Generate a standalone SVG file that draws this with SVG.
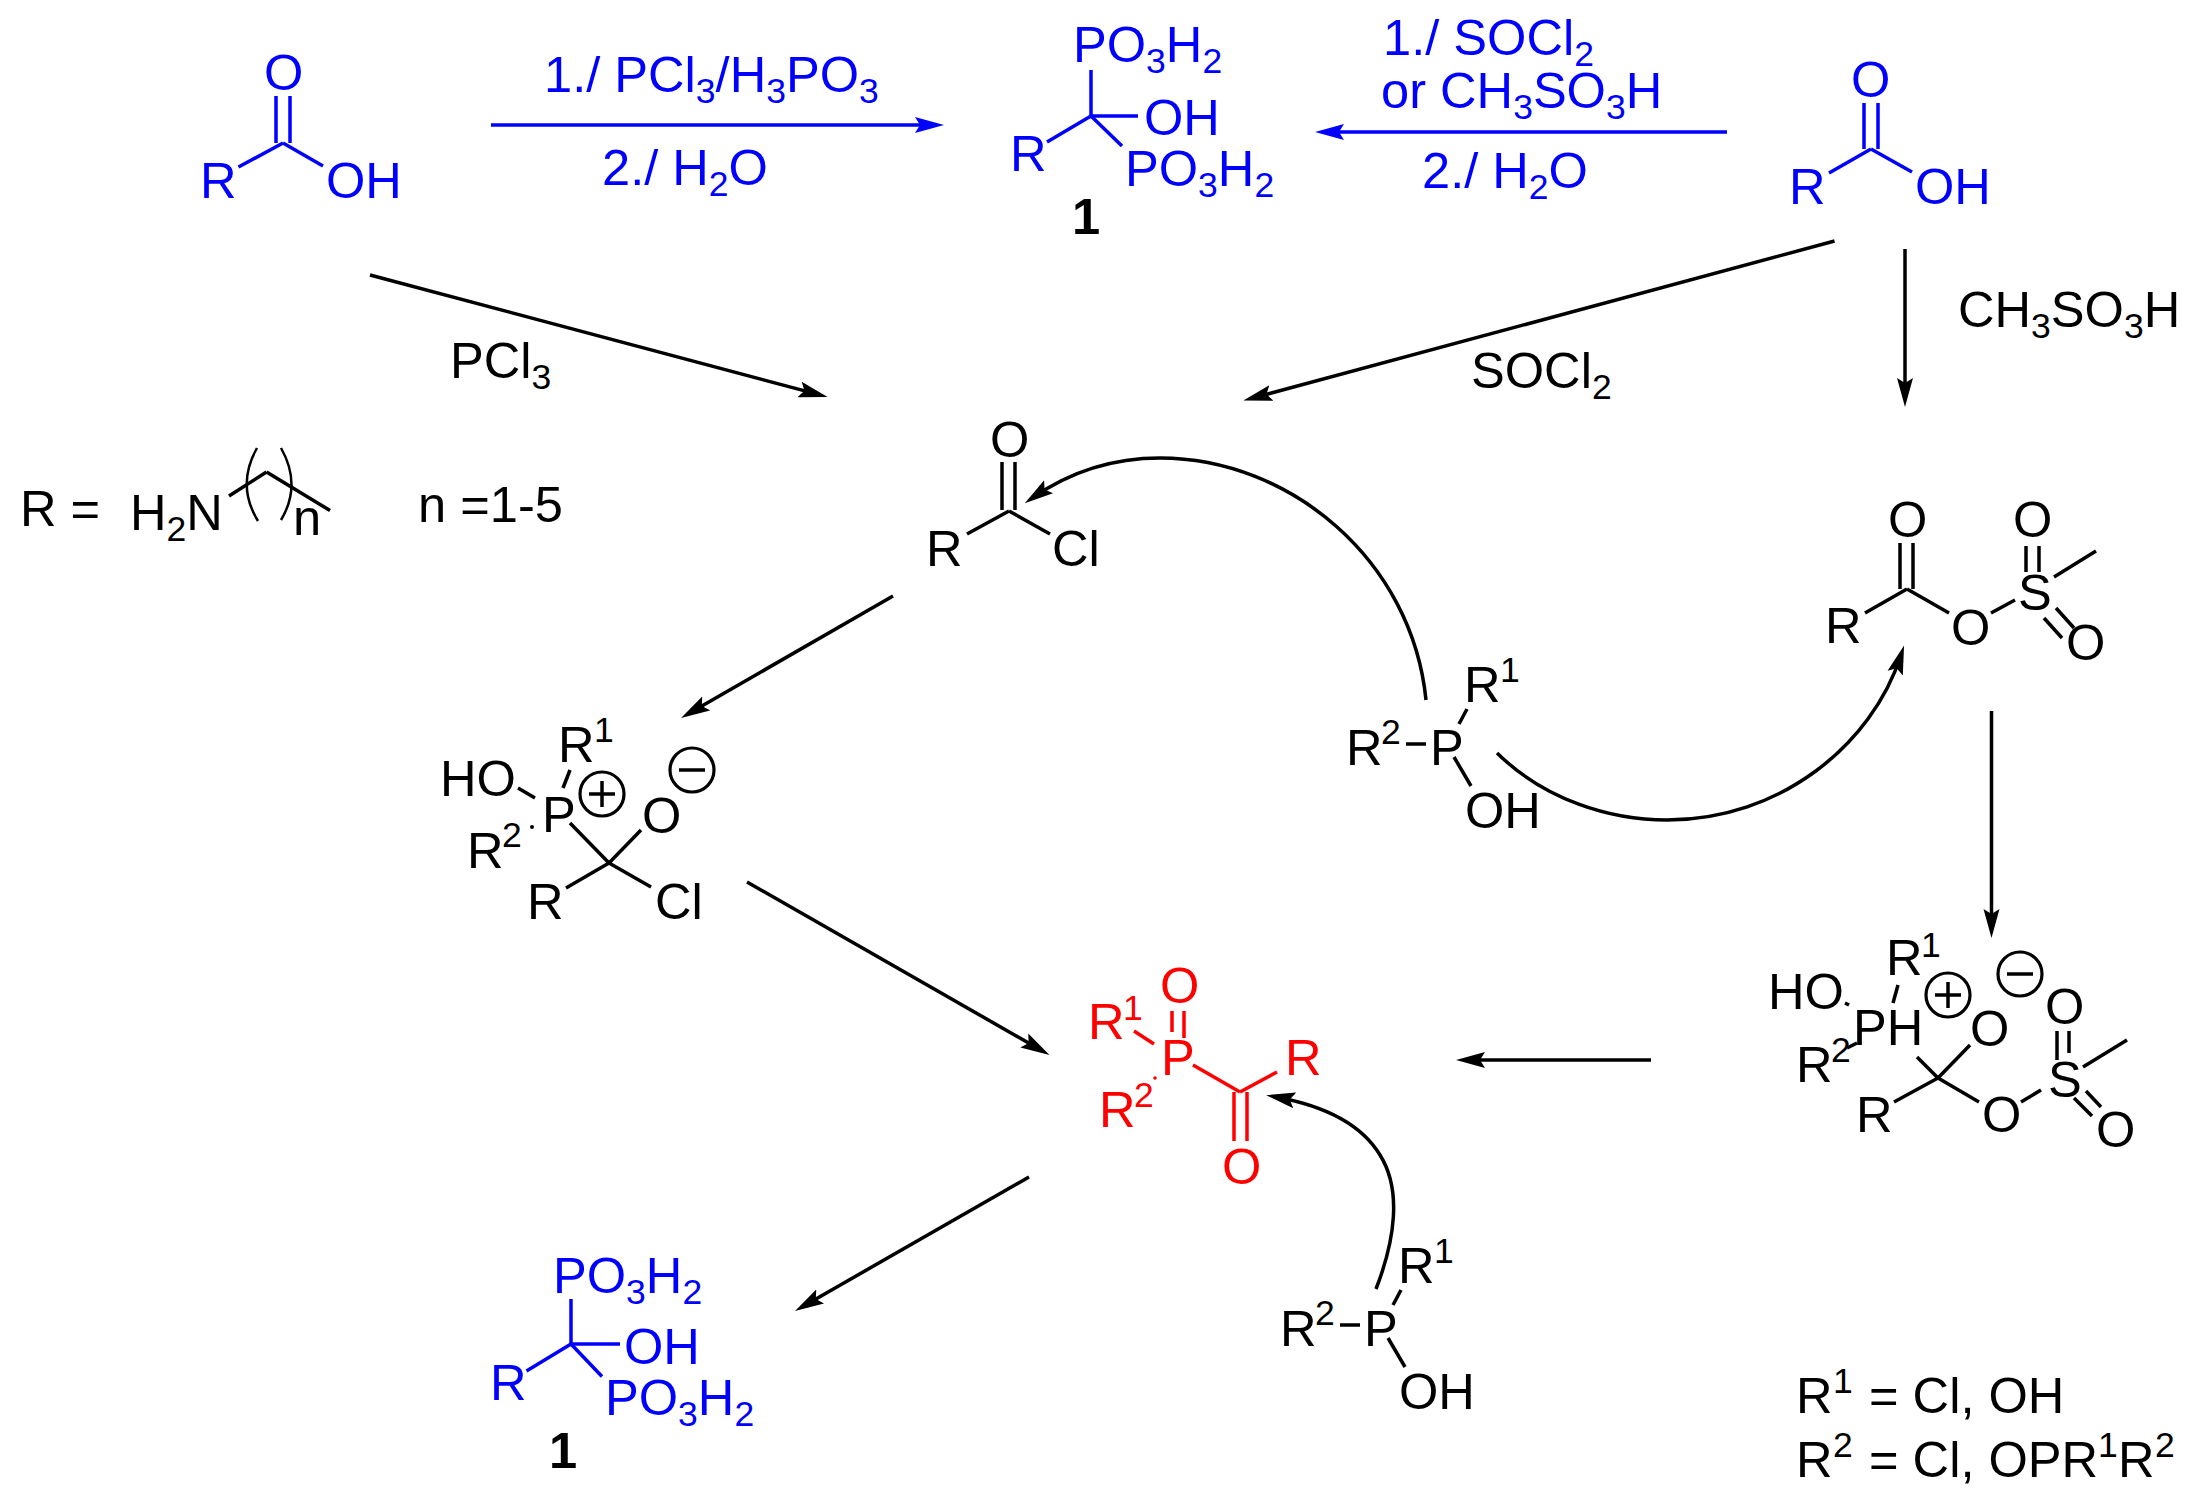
<svg xmlns="http://www.w3.org/2000/svg" width="2199" height="1503" viewBox="0 0 2199 1503">
<style>
text{font-family:"Liberation Sans",Arial,sans-serif;font-size:50.6px;fill:#000}
.s{font-size:35.5px}
.blue text{fill:#00f}.red text{fill:#f00}
.b{font-weight:bold}
line,path.l{stroke:#000;stroke-width:3.5;fill:none}
.blue line{stroke:#00f}.red line{stroke:#f00}
circle{fill:none;stroke:#000;stroke-width:3.2}
.dot{fill:#000;stroke:none}
.red .dot{fill:#f00}
</style>
<defs>
<marker id="ak" markerUnits="userSpaceOnUse" markerWidth="30" markerHeight="18" viewBox="0 0 30 18" refX="19" refY="9" orient="auto"><path d="M0,1L29,9L0,17L5,9Z" fill="#000"/></marker>
<marker id="ab" markerUnits="userSpaceOnUse" markerWidth="30" markerHeight="18" viewBox="0 0 30 18" refX="19" refY="9" orient="auto"><path d="M0,1L29,9L0,17L5,9Z" fill="#00f"/></marker>
</defs>
<rect width="2199" height="1503" fill="#fff"/>
<g id="connectors">
<g class="blue">
<line x1="491" y1="125" x2="934" y2="125" marker-end="url(#ab)"/>
<line x1="1727" y1="132" x2="1325" y2="132" marker-end="url(#ab)"/>
</g>
<line x1="370" y1="275" x2="818" y2="394.4" marker-end="url(#ak)"/>
<line x1="1834.5" y1="241" x2="1253" y2="398" marker-end="url(#ak)"/>
<line x1="1905" y1="249" x2="1905" y2="397" marker-end="url(#ak)"/>
<line x1="893" y1="596" x2="689.7" y2="713" marker-end="url(#ak)"/>
<line x1="747" y1="882" x2="1040.8" y2="1050" marker-end="url(#ak)"/>
<line x1="1651" y1="1060" x2="1466" y2="1060" marker-end="url(#ak)"/>
<line x1="1029" y1="1177" x2="803.7" y2="1306" marker-end="url(#ak)"/>
<line x1="1991.5" y1="711" x2="1991.5" y2="928" marker-end="url(#ak)"/>
<path class="l" d="M1426,700C1412,560 1290,458 1160,458C1112,458 1070,472 1033,497.5" marker-end="url(#ak)"/>
<path class="l" d="M1497,753C1545,800 1610,820 1667,820C1780,820 1872,745 1901,655" marker-end="url(#ak)"/>
<path class="l" d="M1376,1289C1395,1240 1402,1190 1380,1155C1360,1122 1320,1105 1276,1097" marker-end="url(#ak)"/>
</g>
<g id="acid-left" class="blue">
<line x1="276" y1="96" x2="276" y2="143"/><line x1="290" y1="96" x2="290" y2="143"/>
<line x1="283" y1="143" x2="238.5" y2="167"/><line x1="283" y1="143" x2="323" y2="166"/>
<text x="264" y="90">O</text><text x="200" y="198">R</text><text x="326" y="198">OH</text>
</g>
<g id="label-top-left" class="blue">
<text x="544" y="92">1./ PCl<tspan class="s" dy="11">3</tspan><tspan dy="-11">/H</tspan><tspan class="s" dy="11">3</tspan><tspan dy="-11">PO</tspan><tspan class="s" dy="11">3</tspan></text>
<text x="602" y="185">2./ H<tspan class="s" dy="11">2</tspan><tspan dy="-11">O</tspan></text>
</g>
<g id="product-top" class="blue">
<line x1="1091" y1="70" x2="1091" y2="116"/><line x1="1091" y1="116" x2="1047" y2="142"/><line x1="1091" y1="116" x2="1138" y2="116"/><line x1="1091" y1="116" x2="1122" y2="146"/>
<text x="1073" y="62">PO<tspan class="s" dy="11">3</tspan><tspan dy="-11">H</tspan><tspan class="s" dy="11">2</tspan></text>
<text x="1144" y="135">OH</text>
<text x="1010" y="171">R</text>
<text x="1125" y="186">PO<tspan class="s" dy="11">3</tspan><tspan dy="-11">H</tspan><tspan class="s" dy="11">2</tspan></text>
</g>
<g id="label-1-top"><text class="b" x="1072" y="234">1</text></g>
<g id="label-top-right" class="blue">
<text x="1383" y="55">1./ SOCl<tspan class="s" dy="11">2</tspan></text>
<text x="1381" y="108">or CH<tspan class="s" dy="11">3</tspan><tspan dy="-11">SO</tspan><tspan class="s" dy="11">3</tspan><tspan dy="-11">H</tspan></text>
<text x="1422" y="188">2./ H<tspan class="s" dy="11">2</tspan><tspan dy="-11">O</tspan></text>
</g>
<g id="acid-right" class="blue">
<line x1="1864" y1="103" x2="1864" y2="149"/><line x1="1878" y1="103" x2="1878" y2="149"/>
<line x1="1871" y1="149" x2="1829" y2="173"/><line x1="1871" y1="149" x2="1912" y2="172"/>
<text x="1851" y="97">O</text><text x="1789" y="204">R</text><text x="1915" y="204">OH</text>
</g>
<g id="reagent-labels">
<text x="450" y="378">PCl<tspan class="s" dy="11">3</tspan></text>
<text x="1471" y="388">SOCl<tspan class="s" dy="11">2</tspan></text>
<text x="1958" y="327">CH<tspan class="s" dy="11">3</tspan><tspan dy="-11">SO</tspan><tspan class="s" dy="11">3</tspan><tspan dy="-11">H</tspan></text>
</g>
<g id="r-definition">
<text x="20" y="526">R =</text>
<text x="130" y="530">H<tspan class="s" dy="11">2</tspan><tspan dy="-11">N</tspan></text>
<line x1="229" y1="496" x2="266.5" y2="472"/><line x1="266.5" y1="472" x2="330" y2="510.5"/>
<path class="l" style="stroke-width:2.5" d="M257,448Q236,485 258,521"/>
<path class="l" style="stroke-width:2.5" d="M281,448Q302,485 281,520"/>
<text x="293" y="535">n</text>
<text x="418" y="522">n =1-5</text>
</g>
<g id="acid-chloride">
<line x1="1002" y1="462" x2="1002" y2="510"/><line x1="1015" y1="462" x2="1015" y2="510"/>
<line x1="1009" y1="511" x2="967" y2="534"/><line x1="1009" y1="511" x2="1050" y2="534"/>
<text x="990" y="457">O</text><text x="926" y="566">R</text><text x="1052" y="566">Cl</text>
</g>
<g id="phosphite-1">
<line x1="1406" y1="744" x2="1426" y2="744"/><line x1="1459" y1="724" x2="1467" y2="709"/><line x1="1454" y1="757" x2="1471" y2="786"/>
<text x="1346" y="765">R</text><text class="s" x="1381" y="744">2</text><text x="1430" y="765">P</text>
<text x="1464" y="702">R</text><text class="s" x="1500" y="682">1</text><text x="1465" y="828">OH</text>
</g>
<g id="mesylate">
<line x1="1900" y1="543" x2="1900" y2="589"/><line x1="1913" y1="543" x2="1913" y2="589"/>
<line x1="1907" y1="589" x2="1865" y2="613"/><line x1="1907" y1="589" x2="1949" y2="613"/>
<line x1="1991" y1="613" x2="2015" y2="600"/>
<line x1="2026" y1="546" x2="2026" y2="572"/><line x1="2039" y1="546" x2="2039" y2="572"/>
<line x1="2054" y1="577" x2="2096" y2="551"/>
<line x1="2044" y1="618" x2="2062" y2="638"/><line x1="2056" y1="608" x2="2074" y2="628"/>
<text x="1888" y="537">O</text><text x="2013" y="537">O</text>
<text x="1825" y="643">R</text><text x="1951" y="645">O</text><text x="2018" y="610">S</text><text x="2066" y="660">O</text>
</g>
<g id="phosphonium-cl">
<line x1="518" y1="788" x2="535" y2="798"/><line x1="570" y1="770" x2="563" y2="788"/>
<line x1="609" y1="863" x2="570" y2="823"/><line x1="609" y1="863" x2="641" y2="830"/><line x1="609" y1="863" x2="566" y2="888"/><line x1="609" y1="863" x2="651" y2="887"/>
<circle class="dot" cx="532" cy="827" r="2"/>
<text x="440" y="796">HO</text><text x="542" y="832">P</text>
<text x="558" y="762">R</text><text class="s" x="594" y="742">1</text>
<text x="467" y="868">R</text><text class="s" x="502" y="847">2</text>
<text x="642" y="833">O</text><text x="527" y="919">R</text><text x="655" y="919">Cl</text>
<circle cx="602" cy="794" r="22"/><line x1="589" y1="794" x2="615" y2="794"/><line x1="602" y1="781" x2="602" y2="807"/>
<circle cx="692" cy="770" r="22"/><line x1="679" y1="770" x2="705" y2="770"/>
</g>
<g id="phosphonium-ms">
<line x1="1845" y1="1003" x2="1849" y2="1005"/><line x1="1898" y1="985" x2="1893" y2="1003"/><line x1="1847" y1="1048" x2="1857" y2="1043"/>
<line x1="1938" y1="1078" x2="1970" y2="1045"/><line x1="1938" y1="1078" x2="1917" y2="1057"/><line x1="1938" y1="1078" x2="1894" y2="1102"/><line x1="1938" y1="1078" x2="1979" y2="1102"/>
<line x1="2021" y1="1102" x2="2041" y2="1090"/>
<line x1="2057" y1="1031" x2="2057" y2="1060"/><line x1="2069" y1="1031" x2="2069" y2="1053"/>
<line x1="2083" y1="1067" x2="2127" y2="1040"/>
<line x1="2074" y1="1098" x2="2092" y2="1116"/><line x1="2086" y1="1091" x2="2101" y2="1107"/>
<text x="1768" y="1009">HO</text><text x="1853" y="1045">PH</text>
<text x="1886" y="975">R</text><text class="s" x="1921" y="957">1</text>
<text x="1796" y="1082">R</text><text class="s" x="1831" y="1062">2</text>
<text x="1970" y="1046">O</text><text x="1856" y="1132">R</text><text x="1982" y="1132">O</text>
<text x="2048" y="1097">S</text><text x="2045" y="1024">O</text><text x="2096" y="1147">O</text>
<circle cx="1948" cy="995" r="22"/><line x1="1935" y1="995" x2="1961" y2="995"/><line x1="1948" y1="982" x2="1948" y2="1008"/>
<circle cx="2020" cy="974" r="22"/><line x1="2007" y1="974" x2="2033" y2="974"/>
</g>
<g id="acyl-phosphine" class="red">
<line x1="1172" y1="1011" x2="1172" y2="1032"/><line x1="1184" y1="1011" x2="1184" y2="1038"/>
<line x1="1134" y1="1031" x2="1154" y2="1044"/>
<line x1="1193" y1="1065" x2="1240" y2="1092"/><line x1="1240" y1="1092" x2="1277" y2="1072"/>
<line x1="1234" y1="1092" x2="1234" y2="1141"/><line x1="1247" y1="1092" x2="1247" y2="1141"/>
<circle class="dot" cx="1155" cy="1078" r="1.8"/>
<text x="1160" y="1003">O</text><text x="1161" y="1075">P</text>
<text x="1088" y="1039">R</text><text class="s" x="1123" y="1020">1</text>
<text x="1099" y="1127">R</text><text class="s" x="1134" y="1107">2</text>
<text x="1285" y="1075">R</text><text x="1222" y="1184">O</text>
</g>
<g id="phosphite-2" transform="translate(-66,581)">
<line x1="1406" y1="744" x2="1426" y2="744"/><line x1="1459" y1="724" x2="1467" y2="709"/><line x1="1454" y1="757" x2="1471" y2="786"/>
<text x="1346" y="765">R</text><text class="s" x="1381" y="744">2</text><text x="1430" y="765">P</text>
<text x="1464" y="702">R</text><text class="s" x="1500" y="682">1</text><text x="1465" y="828">OH</text>
</g>
<g id="product-bottom" class="blue">
<line x1="571" y1="1299" x2="571" y2="1344"/><line x1="571" y1="1344" x2="620" y2="1344"/><line x1="571" y1="1344" x2="526.5" y2="1371"/><line x1="571" y1="1344" x2="602" y2="1376.5"/>
<text x="553" y="1293">PO<tspan class="s" dy="11">3</tspan><tspan dy="-11">H</tspan><tspan class="s" dy="11">2</tspan></text>
<text x="624" y="1364">OH</text>
<text x="490" y="1400">R</text>
<text x="605" y="1415">PO<tspan class="s" dy="11">3</tspan><tspan dy="-11">H</tspan><tspan class="s" dy="11">2</tspan></text>
</g>
<g id="label-1-bottom"><text class="b" x="549" y="1468">1</text></g>
<g id="legend">
<text x="1796" y="1413">R<tspan class="s" x="1833" dy="-20">1</tspan><tspan x="1869" dy="20">= Cl, OH</tspan></text>
<text x="1796" y="1477">R<tspan class="s" x="1833" dy="-20">2</tspan><tspan x="1869" dy="20">= Cl, OPR</tspan><tspan class="s" x="2098" dy="-20">1</tspan><tspan x="2118" dy="20">R</tspan><tspan class="s" x="2155" dy="-20">2</tspan></text>
</g>
</svg>
